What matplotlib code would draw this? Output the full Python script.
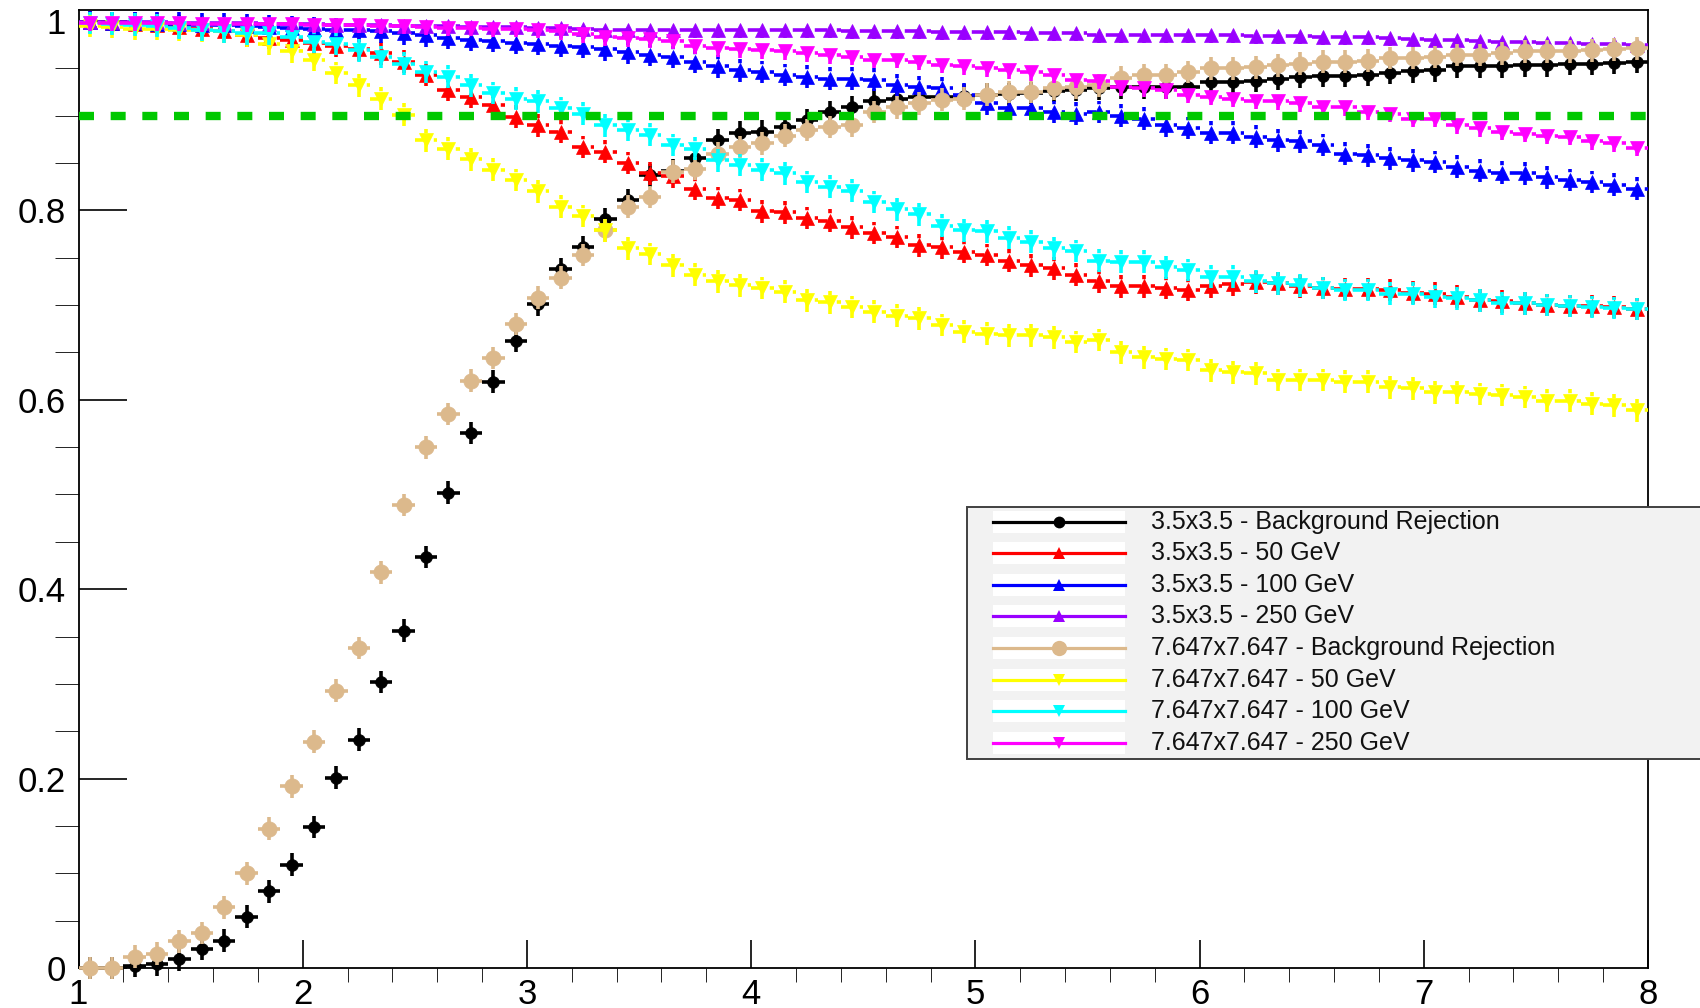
import numpy as np
import matplotlib
matplotlib.use('Agg')
import matplotlib.pyplot as plt
from matplotlib.lines import Line2D
from matplotlib.patches import Rectangle
from matplotlib.ticker import MultipleLocator, FuncFormatter

plt.rcParams['font.family'] = ['Liberation Sans', 'DejaVu Sans']

# 70 bins between 1 and 8
bin_edges = np.linspace(1.0, 8.0, 71)
bin_centers = 0.5 * (bin_edges[:-1] + bin_edges[1:])
half_width = 0.5 * (bin_edges[1] - bin_edges[0])

efficiency_target = 0.9

bg_rej_35 = [
    0.000, 0.000, 0.002, 0.004, 0.009, 0.020, 0.029, 0.054, 0.081, 0.109,
    0.149, 0.201, 0.241, 0.302, 0.356, 0.434, 0.502, 0.565, 0.619, 0.662,
    0.701, 0.738, 0.761, 0.791, 0.811, 0.837, 0.842, 0.855, 0.874, 0.882,
    0.883, 0.888, 0.895, 0.904, 0.909, 0.916, 0.918, 0.920, 0.920, 0.921,
    0.922, 0.923, 0.924, 0.926, 0.927, 0.929, 0.930, 0.930, 0.930, 0.930,
    0.936, 0.936, 0.937, 0.939, 0.941, 0.942, 0.942, 0.943, 0.945, 0.947,
    0.948, 0.952, 0.952, 0.952, 0.953, 0.953, 0.955, 0.955, 0.956, 0.957,
]
eff50_35 = [
    0.999, 0.998, 0.997, 0.996, 0.994, 0.992, 0.989, 0.985, 0.982, 0.980,
    0.977, 0.974, 0.970, 0.966, 0.957, 0.943, 0.927, 0.920, 0.911, 0.899,
    0.890, 0.883, 0.867, 0.862, 0.850, 0.839, 0.836, 0.823, 0.813, 0.811,
    0.799, 0.798, 0.792, 0.789, 0.782, 0.776, 0.772, 0.763, 0.761, 0.756,
    0.753, 0.747, 0.742, 0.739, 0.732, 0.725, 0.720, 0.720, 0.718, 0.716,
    0.720, 0.722, 0.724, 0.723, 0.720, 0.718, 0.717, 0.717, 0.716, 0.713,
    0.712, 0.709, 0.705, 0.704, 0.702, 0.700, 0.699, 0.699, 0.698, 0.696,
]
eff100_35 = [
    0.999, 0.998, 0.998, 0.997, 0.997, 0.996, 0.996, 0.995, 0.994, 0.993,
    0.992, 0.991, 0.990, 0.989, 0.987, 0.985, 0.982, 0.980, 0.979, 0.977,
    0.976, 0.974, 0.973, 0.970, 0.967, 0.964, 0.962, 0.957, 0.952, 0.948,
    0.946, 0.943, 0.941, 0.939, 0.939, 0.938, 0.932, 0.930, 0.929, 0.922,
    0.913, 0.908, 0.908, 0.904, 0.902, 0.904, 0.900, 0.897, 0.890, 0.887,
    0.882, 0.882, 0.878, 0.874, 0.873, 0.869, 0.860, 0.858, 0.855, 0.853,
    0.851, 0.846, 0.842, 0.840, 0.839, 0.835, 0.832, 0.830, 0.827, 0.823,
]
eff250_35 = [
    0.999, 0.999, 0.999, 0.999, 0.998, 0.998, 0.998, 0.998, 0.997, 0.997,
    0.997, 0.996, 0.996, 0.996, 0.995, 0.995, 0.995, 0.994, 0.994, 0.994,
    0.993, 0.993, 0.992, 0.991, 0.991, 0.991, 0.991, 0.990, 0.990, 0.990,
    0.990, 0.990, 0.990, 0.990, 0.989, 0.989, 0.989, 0.989, 0.988, 0.988,
    0.988, 0.988, 0.987, 0.987, 0.987, 0.985, 0.985, 0.985, 0.985, 0.985,
    0.985, 0.985, 0.984, 0.984, 0.984, 0.983, 0.983, 0.983, 0.982, 0.981,
    0.980, 0.980, 0.979, 0.978, 0.978, 0.977, 0.977, 0.976, 0.976, 0.975,
]
bg_rej_76 = [
    0.000, 0.000, 0.012, 0.015, 0.028, 0.037, 0.064, 0.100, 0.147, 0.192,
    0.239, 0.293, 0.338, 0.418, 0.489, 0.550, 0.585, 0.620, 0.644, 0.680,
    0.708, 0.729, 0.753, 0.779, 0.804, 0.814, 0.841, 0.844, 0.860, 0.867,
    0.871, 0.879, 0.885, 0.888, 0.890, 0.904, 0.909, 0.913, 0.917, 0.918,
    0.922, 0.925, 0.925, 0.929, 0.930, 0.932, 0.940, 0.943, 0.943, 0.946,
    0.950, 0.950, 0.951, 0.953, 0.955, 0.957, 0.957, 0.958, 0.961, 0.961,
    0.962, 0.964, 0.964, 0.966, 0.968, 0.968, 0.968, 0.969, 0.970, 0.971,
]
eff50_76 = [
    0.995, 0.994, 0.992, 0.992, 0.991, 0.990, 0.989, 0.985, 0.976, 0.968,
    0.959, 0.945, 0.932, 0.918, 0.901, 0.874, 0.865, 0.854, 0.843, 0.832,
    0.820, 0.804, 0.794, 0.779, 0.760, 0.754, 0.742, 0.732, 0.725, 0.721,
    0.718, 0.714, 0.705, 0.703, 0.698, 0.693, 0.689, 0.686, 0.679, 0.672,
    0.670, 0.668, 0.668, 0.666, 0.661, 0.663, 0.650, 0.645, 0.643, 0.642,
    0.631, 0.629, 0.628, 0.621, 0.621, 0.621, 0.619, 0.619, 0.613, 0.612,
    0.608, 0.608, 0.606, 0.605, 0.603, 0.599, 0.599, 0.596, 0.594, 0.589,
]
eff100_76 = [
    0.998, 0.997, 0.996, 0.995, 0.993, 0.991, 0.989, 0.987, 0.987, 0.983,
    0.978, 0.976, 0.969, 0.962, 0.955, 0.946, 0.941, 0.932, 0.924, 0.918,
    0.915, 0.908, 0.902, 0.890, 0.885, 0.880, 0.869, 0.865, 0.853, 0.848,
    0.843, 0.839, 0.830, 0.825, 0.821, 0.809, 0.801, 0.796, 0.784, 0.779,
    0.778, 0.771, 0.767, 0.760, 0.757, 0.747, 0.746, 0.746, 0.740, 0.737,
    0.730, 0.730, 0.725, 0.723, 0.721, 0.718, 0.716, 0.716, 0.712, 0.712,
    0.709, 0.707, 0.705, 0.702, 0.702, 0.700, 0.699, 0.698, 0.697, 0.696,
]
eff250_76 = [
    0.998, 0.998, 0.998, 0.998, 0.998, 0.997, 0.997, 0.997, 0.997, 0.997,
    0.996, 0.996, 0.996, 0.995, 0.995, 0.994, 0.993, 0.993, 0.992, 0.992,
    0.991, 0.989, 0.986, 0.983, 0.982, 0.981, 0.979, 0.974, 0.971, 0.970,
    0.969, 0.968, 0.966, 0.964, 0.962, 0.959, 0.959, 0.957, 0.954, 0.952,
    0.950, 0.948, 0.946, 0.943, 0.938, 0.937, 0.930, 0.929, 0.927, 0.922,
    0.920, 0.918, 0.916, 0.915, 0.913, 0.909, 0.909, 0.904, 0.902, 0.897,
    0.897, 0.890, 0.887, 0.883, 0.881, 0.879, 0.878, 0.873, 0.871, 0.866,
]

labels = [
    '3.5x3.5 - Background Rejection',
    '3.5x3.5 - 50 GeV',
    '3.5x3.5 - 100 GeV',
    '3.5x3.5 - 250 GeV',
    '7.647x7.647 - Background Rejection',
    '7.647x7.647 - 50 GeV',
    '7.647x7.647 - 100 GeV',
    '7.647x7.647 - 250 GeV',
]
values = [bg_rej_35, eff50_35, eff100_35, eff250_35,
          bg_rej_76, eff50_76, eff100_76, eff250_76]
colors = ['#000000', '#ff0000', '#0000ff', '#9900ff',
          '#dcb98c', '#ffff00', '#00ffff', '#ff00ff']
markers = ['o', '^', '^', '^', 'o', 'v', 'v', 'v']
marker_sizes = [8.5, 9.5, 9.5, 9.5, 11, 10, 10, 10]
dashed = [False, True, True, True, False, True, True, True]
y_errors = [0.012, 0.012, 0.012, 0.008, 0.012, 0.012, 0.012, 0.009]

W, H = 1700, 1008
fig = plt.figure(figsize=(W / 100, H / 100), dpi=100)
ax = fig.add_axes([78.5 / W, 40 / H, (1648 - 78.5) / W, 958 / H])

for i, vals in enumerate(values):
    eb = ax.errorbar(bin_centers, vals, xerr=half_width, yerr=y_errors[i],
                     fmt=markers[i], color=colors[i], ms=marker_sizes[i],
                     mec=colors[i], mew=0.5, elinewidth=2.6, capsize=0,
                     zorder=3 + i)
    for lc in eb[2]:
        lc.set_clip_on(False)
        if dashed[i]:
            lc.set_linestyle((0, (2.6, 2.6)))
    eb[0].set_clip_on(False)

ax.plot([1, 8], [efficiency_target, efficiency_target], color='#00c800',
        lw=6, linestyle=(0, (1.8, 2.0)), zorder=20)

ax.set_xlim(1, 8)
ax.set_ylim(0, 1.0116)
ax.xaxis.set_major_locator(MultipleLocator(1))
ax.xaxis.set_minor_locator(MultipleLocator(0.2))
ax.yaxis.set_major_locator(MultipleLocator(0.2))
ax.yaxis.set_minor_locator(MultipleLocator(0.05))
ax.yaxis.set_major_formatter(FuncFormatter(lambda v, p: '%g' % round(v, 2)))

ax.tick_params(direction='in', top=False, right=False, labelsize=25,
               colors='black', width=1.2)
ax.tick_params(axis='x', which='major', length=20, pad=7)
ax.tick_params(axis='x', which='minor', length=10)
ax.tick_params(axis='y', which='major', length=34.5, pad=9)
ax.tick_params(axis='y', which='minor', length=17)
for sp in ax.spines.values():
    sp.set_linewidth(1.3)

# legend box, drawn in figure pixels
def fx(px):
    return px / W

def fy(py):
    return 1 - py / H

fig.add_artist(Rectangle((fx(967), fy(759)), fx(1720) - fx(967), (759 - 507) / H,
                         transform=fig.transFigure, facecolor='#f2f2f2',
                         edgecolor='#404040', lw=1.4, zorder=30))
legend_ms = [8.5, 8, 8, 8, 11, 8.5, 8.5, 8.5]
for i, label in enumerate(labels):
    yc = 521.7 + i * 31.57
    fig.add_artist(Rectangle((fx(993), fy(yc + 11)), fx(1125) - fx(993), 22 / H,
                             transform=fig.transFigure, facecolor='white',
                             edgecolor='none', zorder=31))
    fig.add_artist(Line2D([fx(993), fx(1125)], [fy(yc), fy(yc)], color=colors[i],
                          lw=2.3, transform=fig.transFigure, zorder=32))
    fig.add_artist(Line2D([fx(1059)], [fy(yc)], marker=markers[i], ms=legend_ms[i],
                          color=colors[i], mew=0, transform=fig.transFigure, zorder=33))
    fig.text(fx(1151), fy(yc), label, fontsize=18, ha='left', va='center',
             color='#111111', zorder=34)

fig.savefig('out.png', dpi=100)
